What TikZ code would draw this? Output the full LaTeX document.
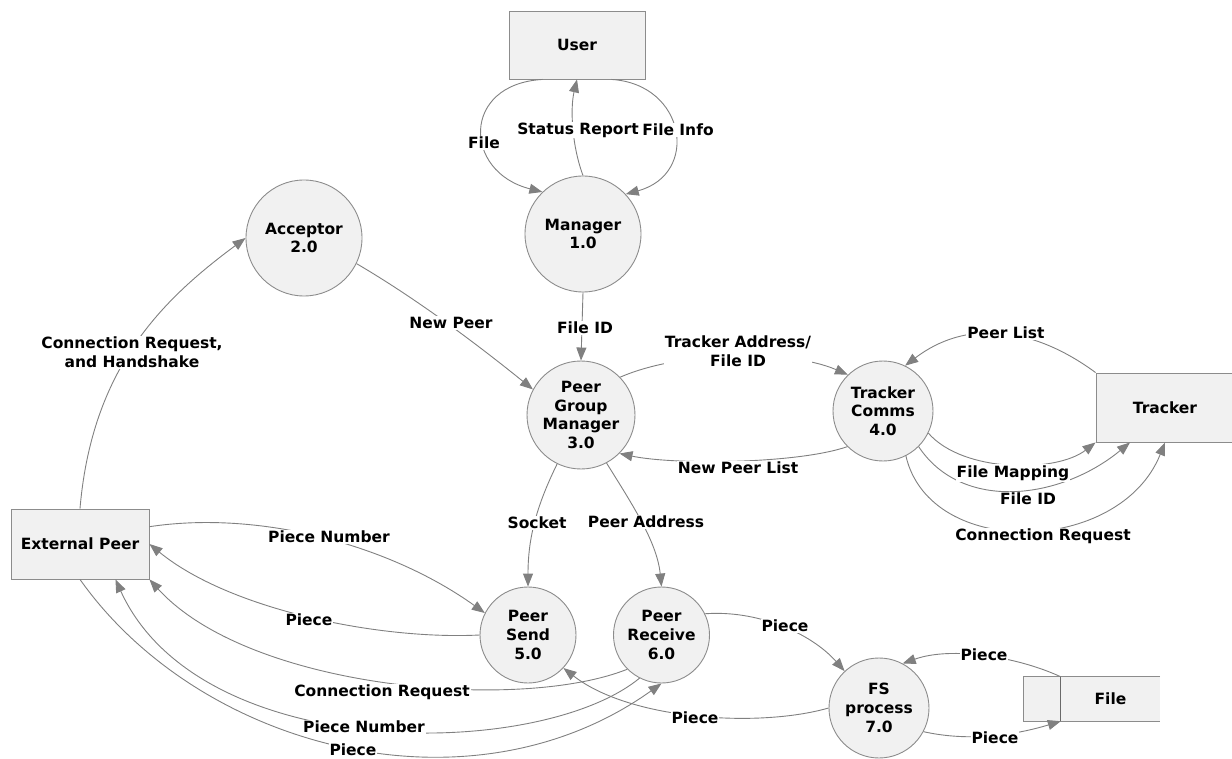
\documentclass[tikz,border=0pt]{standalone}
\usepackage{fontspec}
\setmainfont{DejaVu Sans}
\usetikzlibrary{arrows.meta,calc}
\definecolor{edgegray}{RGB}{128,128,128}
\definecolor{boxfill}{RGB}{241,241,241}
\definecolor{boxline}{RGB}{140,140,140}
\definecolor{storeline}{RGB}{105,105,105}

\begin{document}
\begin{tikzpicture}[x=1pt,y=-1pt,
  font=\fontsize{15.5}{18.7}\selectfont\bfseries,
  proc/.style={circle,draw=boxline,fill=boxfill,line width=0.9pt,
    inner sep=0pt,minimum size=#1,align=center},
  ent/.style={rectangle,draw=boxline,fill=boxfill,line width=0.9pt,
    inner sep=0pt,minimum width=138pt,minimum height=69pt,align=center},
  flow/.style={draw=edgegray,line width=0.9pt,
    -{Triangle[length=13pt,width=10pt]}},
  lbl/.style={fill=white,inner sep=1pt,align=center,text=black}]

\useasboundingbox (0,0) rectangle (1232,759);

% external entities
\node[ent,minimum width=136pt,minimum height=68pt] (user) at (577,45) {User};
\node[ent] (tracker) at (1165,407.5) {Tracker};
\node[ent,minimum height=70pt] (ext) at (80,544) {External Peer};

% processes
\node[proc=116pt] (mgr) at (583,234) {Manager\\1.0};
\node[proc=116pt] (acc) at (304,238) {Acceptor\\2.0};
\node[proc=108pt] (pgm) at (581,415) {Peer\\Group\\Manager\\3.0};
\node[proc=100pt] (tc)  at (883,411) {Tracker\\Comms\\4.0};
\node[proc=96pt]  (ps)  at (528,635) {Peer\\Send\\5.0};
\node[proc=96pt]  (pr)  at (661.5,635) {Peer\\Receive\\6.0};
\node[proc=100pt] (fs)  at (879,708) {FS\\process\\7.0};

% data store (open on the right)
\node[rectangle,fill=boxfill,inner sep=0pt,minimum width=99pt,
  minimum height=44pt] (fstore) at (1110.5,699) {File};
\fill[boxfill] ($(fstore.north west)+(-37,0)$) rectangle (fstore.south west);
\draw[boxline,line width=0.9pt]
  (fstore.north east) -- ($(fstore.north west)+(-37,0)$)
  -- ($(fstore.south west)+(-37,0)$) -- (fstore.south east);
\draw[storeline,line width=1.3pt] (fstore.north west) -- (fstore.south west);

% data flows
\draw[flow] (mgr.north) .. controls (572,146) and (570,109) .. (user.south);
\draw[flow] (user.-135) .. controls (461,84) and (463,172) .. (mgr.134);
\draw[flow] (user.-45) .. controls (686,84) and (700,174) .. (mgr.43);
\draw[flow] (mgr.south) -- (pgm.north);
\draw[flow] (acc.-26) .. controls (417,299) and (478,345) .. (pgm.152);
\draw[flow] (ext.north) .. controls (92,368) and (162,300) .. (acc.west);
\draw[flow] (pgm.44) .. controls (680,351) and (788,349) .. (tc.134);
\draw[flow] (tc.-135) .. controls (797,464) and (674,465) .. (pgm.-45);
\draw[flow] (tracker.north west) .. controls (1031,325) and (965,320) .. (tc.64);
\draw[flow] (tc.-26) .. controls (963,473) and (1056,473) .. (tracker.south west);
\draw[flow] (tc.-45) .. controls (962,512) and (1060,500) .. (tracker.-135);
\draw[flow] (tc.-63) .. controls (930,560) and (1120,555) .. (tracker.south);
\draw[flow] (pgm.-116) .. controls (537,505) and (528,537) .. (ps.north);
\draw[flow] (pgm.-62) .. controls (632,504) and (657,542) .. (pr.north);
\draw[flow] (ext.14) .. controls (260,510) and (390,545) .. (ps.153);
\draw[flow] (ps.west) .. controls (380,640) and (230,610) .. (ext.east);
\draw[flow] (pr.-135) .. controls (520,712) and (250,690) .. (ext.south east);
\draw[flow] (pr.-117) .. controls (540,760) and (200,765) .. (ext.-45);
\draw[flow] (ext.south) .. controls (200,749) and (470,820) .. (pr.south);
\draw[flow] (pr.26) .. controls (756,610) and (810,632) .. (fs.133);
\draw[flow] (fs.west) .. controls (759,728) and (630,720) .. (ps.-43);
\draw[flow] (fstore.north west) .. controls (1018,657) and (952,646) .. (fs.62);
\draw[flow] (fs.-28) .. controls (970,742) and (1015,735) .. (fstore.south west);

% flow labels
\node[lbl] (lStatus)   at (578,130) {Status Report};
\node[lbl] (lFileInfo) at (678,130) {File Info};
\node[lbl] (lFile)     at (484,143) {File};
\node[lbl] (lFileId)   at (585,328) {File ID};
\node[lbl] (lNewPeer)  at (451,323) {New Peer};
\node[lbl] (lConnHs)   at (132,352.5) {Connection Request,\\and Handshake};
\node[lbl] (lTrkAddr)  at (738,351) {Tracker Address/\\File ID};
\node[lbl] (lNewList)  at (738,468) {New Peer List};
\node[lbl] (lPeerList) at (1006,333) {Peer List};
\node[lbl] (lMapping)  at (1013,473) {File Mapping};
\node[lbl] (lTrkFile)  at (1028,499) {File ID};
\node[lbl] (lTrkConn)  at (1043,536) {Connection Request};
\node[lbl] (lSocket)   at (537,523) {Socket};
\node[lbl] (lPeerAddr) at (646,522) {Peer Address};
\node[lbl] (lPnUp)     at (329,537) {Piece Number};
\node[lbl] (lPcUp)     at (309,620) {Piece};
\node[lbl] (lConnLow)  at (382,692) {Connection Request};
\node[lbl] (lPnLow)    at (364,727) {Piece Number};
\node[lbl] (lPcLow)    at (353,750) {Piece};
\node[lbl] (lPcRecv)   at (785,626) {Piece};
\node[lbl] (lPcSend)   at (695,718) {Piece};
\node[lbl] (lPcRead)   at (984,655) {Piece};
\node[lbl] (lPcWrite)  at (995,738) {Piece};
\end{tikzpicture}
\end{document}
